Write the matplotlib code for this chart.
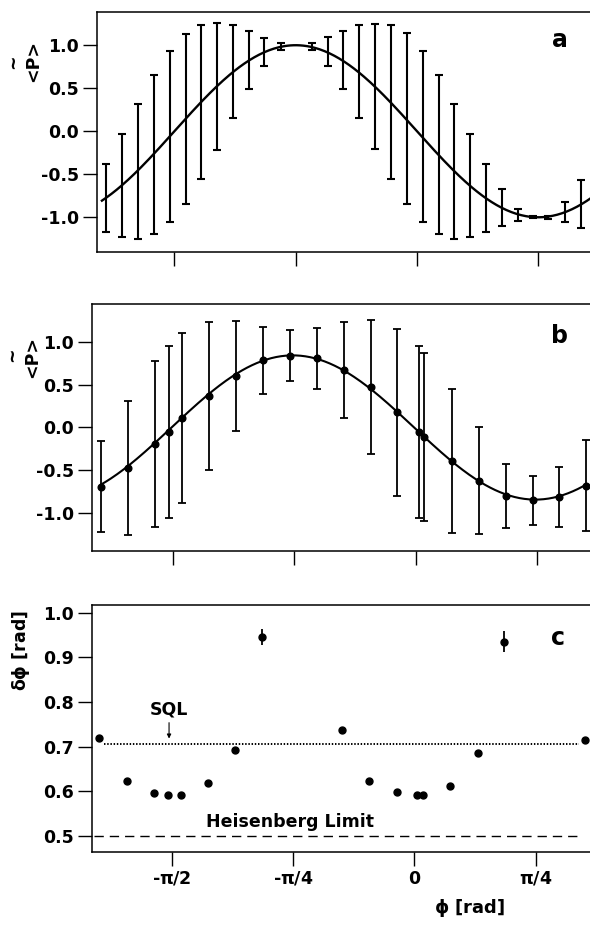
import numpy as np
import matplotlib
matplotlib.use("Agg")
from matplotlib import pyplot as plt

plt.rcParams['font.family'] = ['DejaVu Sans']
plt.rcParams['font.weight'] = 'bold'
plt.rcParams['font.size'] = 12.5
plt.rcParams['mathtext.fontset'] = 'dejavusans'
plt.rcParams['axes.unicode_minus'] = False

# panel a : <P> vs phase, error bars only
phi_a = [-2.013, -1.909, -1.807, -1.702, -1.599, -1.496, -1.396, -1.293, -1.189, -1.089,
         -0.988, -0.880, -0.682, -0.578, -0.477, -0.373, -0.272, -0.168, -0.067, 0.037,
         0.140, 0.239, 0.343, 0.447, 0.550, 0.654, 0.751, 0.848, 0.958, 1.060]
p_a = [-0.775, -0.63, -0.465, -0.275, -0.065, 0.14, 0.34, 0.52, 0.69, 0.825,
       0.92, 0.985, 0.985, 0.925, 0.825, 0.69, 0.52, 0.34, 0.15, -0.065,
       -0.275, -0.465, -0.63, -0.775, -0.885, -0.97, -1.0, -1.0, -0.94, -0.845]
err_a = [0.395, 0.60, 0.785, 0.925, 0.995, 0.99, 0.89, 0.735, 0.54, 0.335,
         0.16, 0.045, 0.045, 0.165, 0.335, 0.54, 0.73, 0.89, 0.99, 0.995,
         0.925, 0.785, 0.60, 0.395, 0.215, 0.07, 0.01, 0.02, 0.12, 0.28]
amp_a = 1.0

# panel b : measured points
phi_b = [-2.037, -1.860, -1.685, -1.597, -1.511, -1.338, -1.165, -0.986, -0.814, -0.637,
         -0.464, -0.291, -0.119, 0.023, 0.056, 0.233, 0.408, 0.583, 0.757, 0.929, 1.102]
p_b = [-0.69, -0.476, -0.19, -0.052, 0.114, 0.367, 0.60, 0.783, 0.837, 0.806,
       0.67, 0.468, 0.177, -0.056, -0.114, -0.39, -0.62, -0.795, -0.845, -0.814, -0.68]
err_b = [0.53, 0.78, 0.965, 1.0, 0.99, 0.866, 0.64, 0.39, 0.30, 0.357,
         0.56, 0.78, 0.973, 1.0, 0.98, 0.84, 0.62, 0.375, 0.285, 0.35, 0.53]
amp_b = 0.84
shift_b = 0.02

# panel c : phase uncertainty
phi_c = [-2.039, -1.858, -1.685, -1.596, -1.510, -1.333, -1.161, -0.984, -0.466,
         -0.291, -0.114, 0.019, 0.058, 0.233, 0.410, 0.583, 1.105]
dphi_c = [0.719, 0.623, 0.596, 0.593, 0.593, 0.618, 0.693, 0.946, 0.737,
          0.623, 0.599, 0.593, 0.592, 0.611, 0.685, 0.935, 0.715]
derr_c = [0, 0, 0, 0, 0, 0, 0, 0.018, 0, 0, 0, 0, 0, 0, 0, 0.024, 0]
sql = 0.707
heis = 0.5

xticks = [-np.pi/2, -np.pi/4, 0, np.pi/4]
xticklabels = [r'-$\mathrm{\pi}$/2', r'-$\mathrm{\pi}$/4', '0', r'$\mathrm{\pi}$/4']

fig = plt.figure(figsize=(5.9, 9.26), dpi=100)
ax1 = fig.add_axes([0.1649, 0.7282, 0.8351, 0.2592])
ax2 = fig.add_axes([0.1564, 0.4053, 0.8436, 0.2661])
ax3 = fig.add_axes([0.1554, 0.0802, 0.8446, 0.2664])

for ax in (ax1, ax2, ax3):
    for s in ['left', 'bottom', 'top']:
        ax.spines[s].set_linewidth(1.1)
    ax.spines['right'].set_visible(False)
    ax.tick_params(direction='out', length=10, width=1.0, top=False, right=False,
                   labelsize=12.5, pad=3)
    ax.set_xticks(xticks)

# a
xx = np.linspace(-2.04, 1.13, 300)
ax1.plot(xx, -amp_a*np.sin(2*xx), color='black', lw=1.7)
ax1.errorbar(phi_a, p_a, yerr=err_a, fmt='none', ecolor='black', elinewidth=1.5,
             capsize=2.8, capthick=1.5)
ax1.set_xlim(-2.070, 1.120)
ax1.set_ylim(-1.40, 1.39)
ax1.set_yticks([-1.0, -0.5, 0.0, 0.5, 1.0])
ax1.set_xticklabels([])
ax1.set_ylabel('<P>', fontweight='bold', va='center')
ax1.yaxis.set_label_coords(-0.1305, 0.795)
ax1.text(-0.171, 0.791, '~', transform=ax1.transAxes, rotation=90,
         ha='center', va='center', fontsize=12.5)
ax1.text(0.939, 0.882, 'a', transform=ax1.transAxes, ha='center', va='center', fontsize=17)

# b
xb = np.linspace(phi_b[0], phi_b[-1], 300)
ax2.plot(xb, -amp_b*np.sin(2*xb + shift_b), color='black', lw=1.5)
ax2.errorbar(phi_b, p_b, yerr=err_b, fmt='o', color='black', ms=4.8, elinewidth=1.3,
             capsize=3.2, capthick=1.3)
ax2.set_xlim(-2.094, 1.129)
ax2.set_ylim(-1.435, 1.435)
ax2.set_yticks([-1.0, -0.5, 0.0, 0.5, 1.0])
ax2.set_xticklabels([])
ax2.set_ylabel('<P>', fontweight='bold', va='center')
ax2.yaxis.set_label_coords(-0.121, 0.786)
ax2.text(-0.161, 0.794, '~', transform=ax2.transAxes, rotation=90,
         ha='center', va='center', fontsize=12.5)
ax2.text(0.938, 0.871, 'b', transform=ax2.transAxes, ha='center', va='center', fontsize=17)

# c
ax3.hlines(sql, -2.01, 1.07, colors='black', lw=1.4, linestyles=(0, (0.75, 0.9)))
ax3.hlines(heis, -2.073, 1.058, colors='black', lw=1.0, linestyles=(0, (6.7, 4.3)))
ax3.errorbar(phi_c, dphi_c, yerr=derr_c, fmt='o', color='black', ms=5, elinewidth=1.3,
             capsize=0)
ax3.annotate('', xy=(-1.588, 0.712), xytext=(-1.588, 0.760),
             arrowprops=dict(arrowstyle='-|>', color='black', lw=0.8,
                             mutation_scale=6))
ax3.text(-1.588, 0.783, 'SQL', ha='center', va='center', fontsize=12.5)
ax3.text(-0.805, 0.532, 'Heisenberg Limit', ha='center', va='center', fontsize=12.5)
ax3.set_xlim(-2.089, 1.138)
ax3.set_ylim(0.465, 1.017)
ax3.set_yticks([0.5, 0.6, 0.7, 0.8, 0.9, 1.0])
ax3.set_xticklabels(xticklabels)
ax3.set_ylabel(r'$\mathrm{\delta\phi}$ [rad]', fontweight='bold', va='center')
ax3.yaxis.set_label_coords(-0.142, 0.8135)
ax3.set_xlabel(r'$\mathrm{\phi}$ [rad]', fontweight='bold', va='center', fontsize=13)
ax3.xaxis.set_label_coords(0.759, -0.228)
ax3.text(0.936, 0.866, 'c', transform=ax3.transAxes, ha='center', va='center', fontsize=17)

plt.savefig('out.png', dpi=100)
